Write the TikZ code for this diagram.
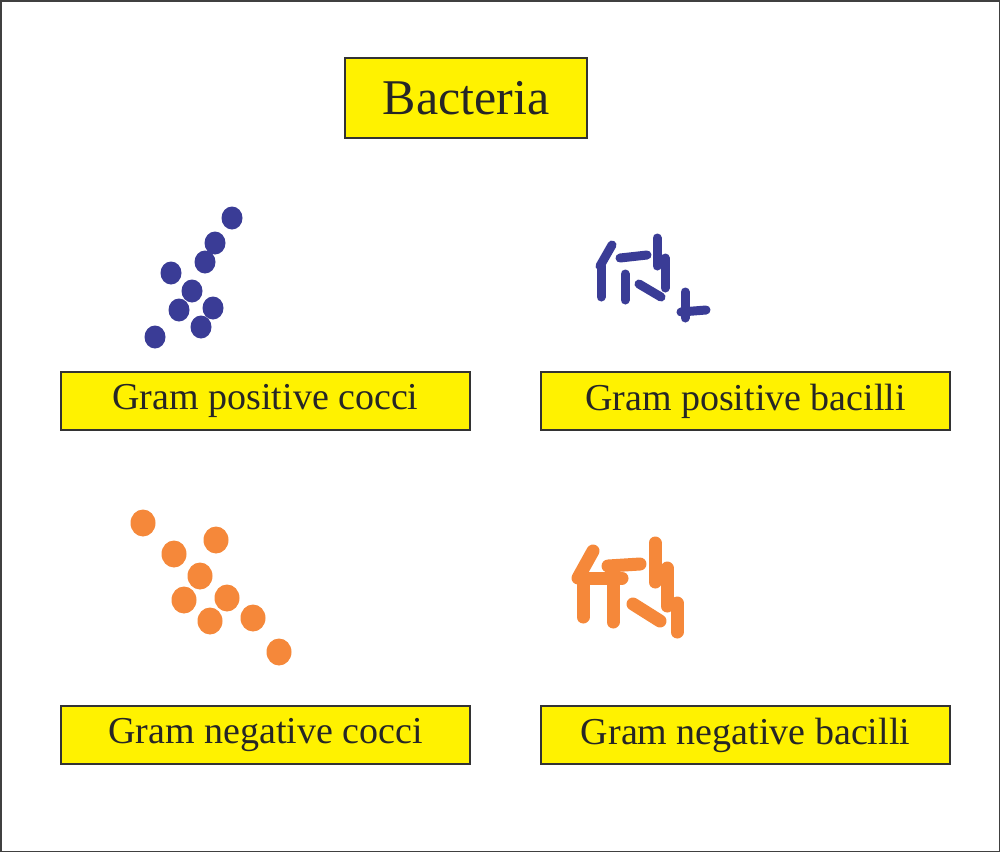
\documentclass[tikz,border=0pt]{standalone}
\usepackage{fontspec}
\setmainfont{Liberation Serif}
\definecolor{bblue}{HTML}{3A3C96}
\definecolor{borange}{HTML}{F5883A}
\begin{document}
\begin{tikzpicture}[x=1pt,y=-1pt,
  lbl/.style={draw=black!80,line width=1.5pt,fill=yellow,minimum width=409pt,minimum height=58pt,inner sep=0pt,font=\fontsize{38}{40}\selectfont,text=black!85},
  bcoc/.style={fill=bblue},
  ococ/.style={fill=borange},
  brod/.style={draw=bblue,line width=9pt,line cap=round},
  orod/.style={draw=borange,line width=13pt,line cap=round}]
\draw[draw=black!75,line width=1.5pt,fill=white] (0.75,0.75) rectangle (999.25,851.25);
\node[lbl,minimum width=242pt,minimum height=80pt,font=\fontsize{50}{52}\selectfont] (title) at (466,98) {Bacteria};
\node[lbl] (gpc) at (265.5,401) {Gram positive cocci};
\node[lbl] (gpb) at (745.5,401) {Gram positive bacilli};
\node[lbl] (gnc) at (265.5,735) {Gram negative cocci};
\node[lbl] (gnb) at (745.5,735) {Gram negative bacilli};
\foreach \p in {(232,218),(215,243),(205,262),(171,273),(192,291),(179,310),(213,308),(201,327),(155,337)}
  \fill[bcoc] \p ellipse (10.5 and 11.5);
\foreach \p in {(143,523),(174,554),(216,540),(200,576),(184,600),(227,598),(210,621),(253,618),(279,652)}
  \fill[ococ] \p ellipse (12.5 and 13.5);
\draw[brod] (612,245)--(600,266);
\draw[brod] (601,266)--(601,297);
\draw[brod] (620,258)--(647,255);
\draw[brod] (625,274)--(625,300);
\draw[brod] (657,238)--(657,266);
\draw[brod] (665,258)--(665,288);
\draw[brod] (639,284)--(661,297);
\draw[brod] (685,292)--(685,318);
\draw[brod] (681,312)--(706,310);
\draw[orod] (593,551)--(578,578);
\draw[orod] (583,578)--(583,617);
\draw[orod] (608,566)--(640,564);
\draw[orod] (582,578)--(622,578);
\draw[orod] (613,580)--(613,622);
\draw[orod] (655,543)--(655,582);
\draw[orod] (667,568)--(667,606);
\draw[orod] (633,604)--(660,621);
\draw[orod] (677,603)--(677,632);
\end{tikzpicture}
\end{document}
